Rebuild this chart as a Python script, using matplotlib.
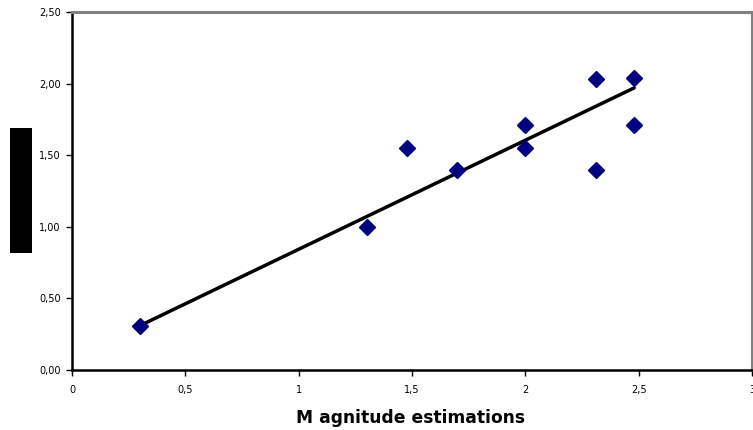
import matplotlib
matplotlib.use("Agg")
import matplotlib.pyplot as plt
from matplotlib.patches import Rectangle

plt.rcParams['font.family'] = ['DejaVu Sans']

# Data
x_vals = [0.30, 1.30, 1.48, 1.70, 2.00, 2.00, 2.31, 2.31, 2.48, 2.48]
y_vals = [0.31, 1.00, 1.55, 1.40, 1.71, 1.55, 2.03, 1.40, 2.04, 1.71]
trend_x = [0.30, 2.48]
trend_y = [0.31, 1.97]

x_ticks = [0, 0.5, 1, 1.5, 2, 2.5, 3]
x_tick_labels = ["0", "0,5", "1", "1,5", "2", "2,5", "3"]
y_ticks = [0, 0.5, 1.0, 1.5, 2.0, 2.5]
y_tick_labels = ["0,00", "0,50", "1,00", "1,50", "2,00", "2,50"]

fig = plt.figure(figsize=(7.53, 4.30), dpi=100)
ax = fig.add_axes([72/753, 1-370/430, 1-72/753 - 1/753, (370-12)/430])

ax.plot(trend_x, trend_y, color='black', lw=2.5, solid_capstyle='round', zorder=2)
ax.plot(x_vals, y_vals, linestyle='none', marker='D', ms=8, color='#000080',
        markeredgecolor='#000080', zorder=3)

ax.set_xlim(0, 3)
ax.set_ylim(0, 2.5)
ax.set_xticks(x_ticks)
ax.set_xticklabels(x_tick_labels)
ax.set_yticks(y_ticks)
ax.set_yticklabels(y_tick_labels)
ax.tick_params(axis='both', direction='out', length=4, width=1, labelsize=7, color='black')
ax.tick_params(axis='x', pad=7)
ax.tick_params(axis='y', pad=4)

for s in ['left', 'bottom']:
    ax.spines[s].set_color('black')
    ax.spines[s].set_linewidth(1.8)
for s in ['top', 'right']:
    ax.spines[s].set_color('#808080')
    ax.spines[s].set_linewidth(2.2)

fig.text(411/753, 1-418/430, "M agnitude estimations", ha='center', va='center',
         fontsize=12.3, fontweight='bold')

# redacted y-axis label block
fig.patches.append(Rectangle((10/753, 1-253/430), 22/753, 125/430,
                             transform=fig.transFigure, facecolor='black',
                             edgecolor='none'))

fig.savefig("out.png", dpi=100)
